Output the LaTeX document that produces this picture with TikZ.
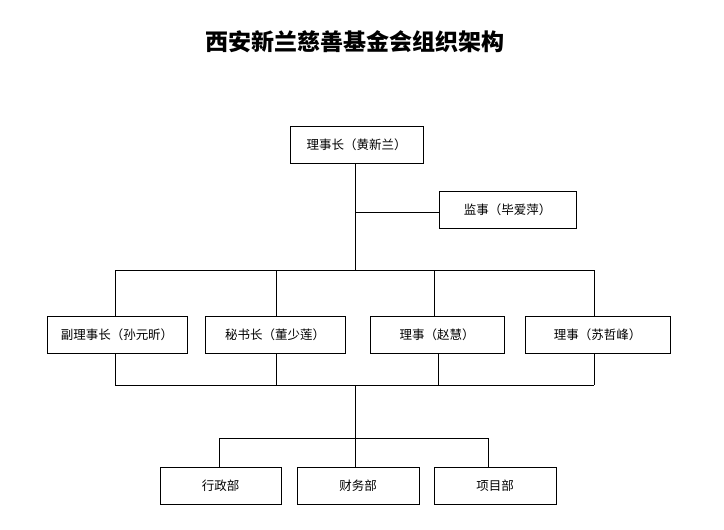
\documentclass[tikz,border=0pt]{standalone}
\usepackage{fontspec}
\setmainfont{Noto Sans CJK SC}
\usetikzlibrary{positioning}
\tikzset{org/.style={draw,thick,minimum height=37pt,inner sep=0pt,font=\fontsize{12.5}{14}\selectfont}}
\begin{document}
\begin{tikzpicture}[x=1pt,y=-1pt,line width=0.8pt]
\useasboundingbox (0,0) rectangle (724,530);
\node (title) at (355,42) {\fontsize{23}{27}\selectfont\bfseries 西安新兰慈善基金会组织架构};
\node[org,minimum width=133pt] (chair) at (356.5,145) {理事长（黄新兰）};
\node[org,minimum width=137pt] (sup) at (507.5,209.5) {监事（毕爱萍）};
\node[org,minimum width=140pt] (vice) at (117,334.5) {副理事长（孙元昕）};
\node[org,minimum width=140pt] (sec) at (275,334.5) {秘书长（董少莲）};
\node[org,minimum width=134pt] (dirz) at (437,334.5) {理事（赵慧）};
\node[org,minimum width=145pt] (dirs) at (597.5,334.5) {理事（苏哲峰）};
\node[org,minimum width=121pt] (admin) at (220.5,485.5) {行政部};
\node[org,minimum width=122pt] (fin) at (358,485.5) {财务部};
\node[org,minimum width=122pt] (proj) at (495,485.5) {项目部};
\coordinate (top) at (355,270);
\coordinate (mid) at (355,385);
\coordinate (low) at (355,438);
% upper tree
\draw (chair.south -| top) -- (top);
\draw (355,212) -- (sup.west |- 355,212);
\draw (115,270) -- (594,270);
\foreach \n/\x in {vice/115,sec/276,dirz/434,dirs/594}
  \draw (\x,270) -- (\n.north -| \x,0);
% lower tree
\foreach \n/\x in {vice/115,sec/276,dirz/438,dirs/594}
  \draw (\n.south -| \x,0) -- (\x,385);
\draw (115,385) -- (594,385);
\draw (mid) -- (low);
\draw (219,438) -- (488,438);
\foreach \n/\x in {admin/219,fin/355,proj/488}
  \draw (\x,438) -- (\n.north -| \x,0);
\end{tikzpicture}
\end{document}
